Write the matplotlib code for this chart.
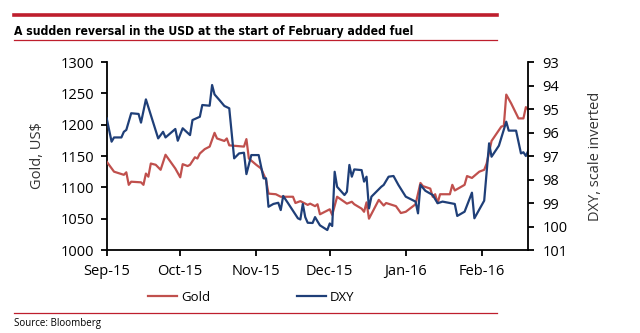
import matplotlib
matplotlib.use('Agg')
import matplotlib.pyplot as plt
import matplotlib.dates as mdates
import pandas as pd

plt.rcParams['font.family'] = ['Open Sans', 'DejaVu Sans']

# Gold spot, US$/oz
gold_dates = ['2015-09-01', '2015-09-04', '2015-09-08', '2015-09-09', '2015-09-10', '2015-09-11',
              '2015-09-15', '2015-09-16', '2015-09-17', '2015-09-18', '2015-09-19', '2015-09-21',
              '2015-09-23', '2015-09-25', '2015-09-27', '2015-09-29', '2015-10-01', '2015-10-02',
              '2015-10-04', '2015-10-05', '2015-10-07', '2015-10-08', '2015-10-09', '2015-10-11',
              '2015-10-13', '2015-10-15', '2015-10-16', '2015-10-19', '2015-10-20', '2015-10-21',
              '2015-10-27', '2015-10-28', '2015-10-29', '2015-11-01', '2015-11-03', '2015-11-05',
              '2015-11-06', '2015-11-09', '2015-11-11', '2015-11-16', '2015-11-17', '2015-11-19',
              '2015-11-22', '2015-11-23', '2015-11-25', '2015-11-26', '2015-11-27', '2015-12-01',
              '2015-12-02', '2015-12-04', '2015-12-08', '2015-12-10', '2015-12-11', '2015-12-14',
              '2015-12-15', '2015-12-16', '2015-12-17', '2015-12-21', '2015-12-23', '2015-12-24',
              '2015-12-28', '2015-12-30', '2016-01-01', '2016-01-05', '2016-01-07', '2016-01-08',
              '2016-01-11', '2016-01-12', '2016-01-13', '2016-01-14', '2016-01-15', '2016-01-19',
              '2016-01-20', '2016-01-21', '2016-01-25', '2016-01-26', '2016-01-28', '2016-01-31',
              '2016-02-02', '2016-02-03', '2016-02-05', '2016-02-09', '2016-02-10', '2016-02-11',
              '2016-02-13', '2016-02-16', '2016-02-18', '2016-02-19', '2016-02-20']
gold_values = [1141, 1125, 1120, 1124, 1104, 1109,
               1108, 1104, 1122, 1117, 1138, 1136,
               1128, 1152, 1141, 1130, 1116, 1137,
               1134, 1136, 1148, 1146, 1154, 1161,
               1165, 1187, 1178, 1174, 1178, 1167,
               1165, 1177, 1146, 1136, 1130, 1112,
               1090, 1089, 1085, 1085, 1075, 1078,
               1072, 1074, 1070, 1073, 1057, 1065,
               1056, 1085, 1074, 1077, 1073, 1066,
               1061, 1076, 1050, 1080, 1071, 1075,
               1070, 1059, 1061, 1073, 1107, 1102,
               1098, 1085, 1089, 1075, 1089, 1089,
               1104, 1095, 1104, 1118, 1115, 1125,
               1128, 1138, 1174, 1197, 1198, 1248,
               1234, 1210, 1210, 1228, 1224]

# Dollar index (plotted on an inverted right axis)
dxy_dates = ['2015-09-01', '2015-09-03', '2015-09-04', '2015-09-07', '2015-09-08', '2015-09-09',
             '2015-09-11', '2015-09-14', '2015-09-15', '2015-09-17', '2015-09-22', '2015-09-24',
             '2015-09-25', '2015-09-29', '2015-09-30', '2015-10-02', '2015-10-05', '2015-10-06',
             '2015-10-09', '2015-10-10', '2015-10-13', '2015-10-14', '2015-10-15', '2015-10-17',
             '2015-10-19', '2015-10-21', '2015-10-23', '2015-10-25', '2015-10-27', '2015-10-28',
             '2015-10-30', '2015-11-02', '2015-11-04', '2015-11-05', '2015-11-06', '2015-11-08',
             '2015-11-10', '2015-11-11', '2015-11-12', '2015-11-14', '2015-11-18', '2015-11-19',
             '2015-11-20', '2015-11-21', '2015-11-22', '2015-11-24', '2015-11-25', '2015-11-26',
             '2015-11-27', '2015-11-30', '2015-12-01', '2015-12-02', '2015-12-03', '2015-12-04',
             '2015-12-07', '2015-12-08', '2015-12-09', '2015-12-10', '2015-12-11', '2015-12-14',
             '2015-12-15', '2015-12-16', '2015-12-17', '2015-12-18', '2015-12-22', '2015-12-23',
             '2015-12-25', '2015-12-27', '2015-12-29', '2016-01-01', '2016-01-05', '2016-01-06',
             '2016-01-07', '2016-01-09', '2016-01-12', '2016-01-14', '2016-01-16', '2016-01-21',
             '2016-01-22', '2016-01-25', '2016-01-28', '2016-01-29', '2016-02-02', '2016-02-04',
             '2016-02-05', '2016-02-08', '2016-02-11', '2016-02-12', '2016-02-15', '2016-02-17',
             '2016-02-18', '2016-02-19', '2016-02-20']
dxy_values = [95.40, 96.39, 96.21, 96.21, 95.97, 95.89,
              95.18, 95.21, 95.58, 94.59, 96.25, 95.97,
              96.21, 95.85, 96.35, 95.82, 96.11, 95.47,
              95.33, 94.83, 94.86, 93.98, 94.38, 94.62,
              94.87, 94.97, 97.10, 96.89, 96.86, 97.77,
              96.96, 96.96, 97.95, 97.95, 99.16, 99.04,
              98.99, 99.30, 98.70, 99.01, 99.65, 99.70,
              99.04, 99.60, 99.84, 99.85, 99.60, 99.78,
              99.95, 100.15, 99.87, 99.98, 97.67, 98.31,
              98.66, 98.52, 97.38, 97.88, 97.57, 97.60,
              98.09, 97.88, 99.23, 98.73, 98.31, 98.23,
              97.88, 97.85, 98.23, 98.73, 98.94, 99.44,
              98.23, 98.48, 98.66, 99.01, 98.94, 99.04,
              99.55, 99.37, 98.56, 99.65, 98.90, 96.46,
              97.03, 96.56, 95.54, 95.92, 95.92, 96.89,
              96.84, 97.00, 96.77]

gold_ticks = [1000, 1050, 1100, 1150, 1200, 1250, 1300]
dxy_ticks = [93, 94, 95, 96, 97, 98, 99, 100, 101]

RED = '#C0504D'
NAVY = '#1F3F78'
RULE = '#BE1E2D'
FS = 10.5

fig = plt.figure(figsize=(6.4, 3.33), dpi=100)
ax = fig.add_axes([0.1667, 0.2492, 0.6588, 0.5646])
ax2 = ax.twinx()

g_x = pd.to_datetime(gold_dates)
d_x = pd.to_datetime(dxy_dates)
l1, = ax.plot(g_x, gold_values, color=RED, lw=1.6, label='Gold', zorder=3)
l2, = ax2.plot(d_x, dxy_values, color=NAVY, lw=1.6, label='DXY', zorder=2)

ax.set_xlim(pd.Timestamp('2015-09-01'), pd.Timestamp('2016-02-20'))
ax.set_ylim(1000, 1300)
ax.set_yticks(gold_ticks)
ax2.set_ylim(101, 93)
ax2.set_yticks(dxy_ticks)

ax.xaxis.set_major_locator(mdates.MonthLocator())
ax.xaxis.set_major_formatter(mdates.DateFormatter('%b-%y'))

for a in (ax, ax2):
    a.spines['top'].set_visible(False)
    for s in ('left', 'right', 'bottom'):
        a.spines[s].set_linewidth(1.3)
    a.tick_params(width=1.3, length=4, labelsize=FS, colors='black', pad=5)
ax.spines['right'].set_visible(False)
ax2.spines['left'].set_visible(False)
ax2.spines['bottom'].set_visible(False)
ax.tick_params(axis='x', pad=6)
ax2.tick_params(axis='y', pad=6)
ax.set_ylabel('Gold, US$', fontsize=FS, color='#333333', labelpad=11)
ax2.set_ylabel('DXY, scale inverted', fontsize=FS, color='#333333', labelpad=15)

fig.legend([l1, l2], ['Gold', 'DXY'], loc='center left', bbox_to_anchor=(0.2125, 0.108),
           ncol=2, frameon=False, fontsize=9.5, handlelength=2.2, columnspacing=6.6,
           handletextpad=0.3)

fig.text(0.022, 0.905, 'A sudden reversal in the USD at the start of February added fuel',
         fontsize=8.7, fontweight='bold', fontstretch='condensed', family='DejaVu Sans',
         va='center', ha='left')
fig.add_artist(plt.Line2D([0.022, 0.776], [0.955, 0.955], color=RULE, lw=2.6))
fig.add_artist(plt.Line2D([0.022, 0.776], [0.879, 0.879], color=RULE, lw=0.9))
fig.add_artist(plt.Line2D([0.022, 0.776], [0.060, 0.060], color=RULE, lw=0.9))
fig.text(0.022, 0.030, 'Source: Bloomberg', fontsize=7, va='center', ha='left')

fig.savefig('out.png', dpi=100)
